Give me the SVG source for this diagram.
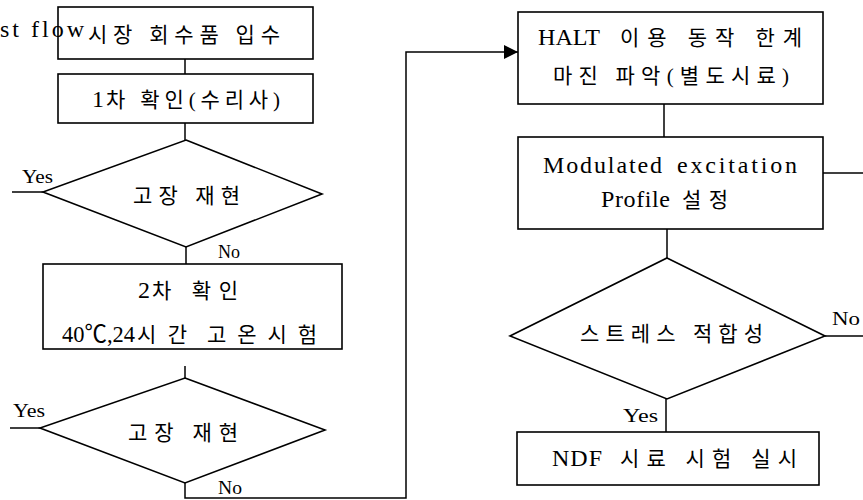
<svg xmlns="http://www.w3.org/2000/svg" width="863" height="500" viewBox="0 0 863 500">
<defs>
<style>
.box{fill:#fff;stroke:#000;stroke-width:1.6}
.dia{fill:#fff;stroke:#000;stroke-width:1.6}
.ln{fill:none;stroke:#000;stroke-width:1.5}
.k{font-family:"Liberation Serif","Noto Sans CJK KR",serif;font-size:21px;fill:#000}
.e{font-family:"Liberation Serif","Noto Sans CJK KR",serif;font-size:24px;fill:#000}
.lb{font-family:"Liberation Serif","Noto Sans CJK KR",serif;font-size:19px;fill:#000}
</style>
<marker id="arr" viewBox="0 0 10 10" refX="10" refY="5" markerWidth="21" markerHeight="14" markerUnits="userSpaceOnUse" orient="auto">
<path d="M0,0 L10,5 L0,10 Z" fill="#000"/>
</marker>
</defs>
<rect width="863" height="500" fill="#fff"/>
<g id="connectors">
<line class="ln" x1="185" y1="59" x2="185" y2="74"/>
<line class="ln" x1="185" y1="123" x2="185" y2="140"/>
<line class="ln" x1="12" y1="192" x2="43" y2="192"/>
<line class="ln" x1="186" y1="247" x2="186" y2="264"/>
<line class="ln" x1="185" y1="366" x2="185" y2="378"/>
<line class="ln" x1="10" y1="428" x2="40" y2="428"/>
<polyline class="ln" points="185,483 185,498 406,498 406,52 518,52" marker-end="url(#arr)"/>
<line class="ln" x1="664" y1="104" x2="664" y2="137"/>
<line class="ln" x1="823" y1="173" x2="863" y2="173"/>
<line class="ln" x1="667" y1="229" x2="667" y2="258"/>
<line class="ln" x1="825" y1="336" x2="863" y2="336"/>
<line class="ln" x1="666" y1="399" x2="666" y2="432"/>
<text class="lb" x="22" y="183" textLength="31" lengthAdjust="spacingAndGlyphs">Yes</text>
<text class="lb" x="218" y="258" textLength="22" lengthAdjust="spacingAndGlyphs">No</text>
<text class="lb" x="13" y="417" textLength="32" lengthAdjust="spacingAndGlyphs">Yes</text>
<text class="lb" x="218" y="494" textLength="24" lengthAdjust="spacingAndGlyphs">No</text>
<text class="lb" x="832" y="325" textLength="28" lengthAdjust="spacingAndGlyphs">No</text>
<text class="lb" x="623" y="422" textLength="35" lengthAdjust="spacingAndGlyphs">Yes</text>
</g>
<g id="n1">
<rect class="box" x="58" y="7" width="255" height="52"/>
<text class="k" x="88" y="42" textLength="192" lengthAdjust="spacing">시장 회수품 입수</text>
</g>
<text id="title" class="e" x="0" y="37" textLength="84" lengthAdjust="spacing">st flow</text>
<g id="n2">
<rect class="box" x="58" y="74" width="255" height="49"/>
<text class="e" x="92" y="107">1</text>
<text class="k" x="106" y="107" textLength="174" lengthAdjust="spacing">차 확인(수리사)</text>
</g>
<g id="d1">
<polygon class="dia" points="186,140 322,194 186,247 43,192"/>
<text class="k" x="133" y="203" textLength="107" lengthAdjust="spacing">고장 재현</text>
</g>
<g id="n3">
<rect class="box" x="43" y="264" width="299" height="85"/>
<text class="e" x="138" y="298">2</text>
<text class="k" x="152" y="298" textLength="86" lengthAdjust="spacing">차 확인</text>
<text class="e" x="62" y="342" textLength="73" lengthAdjust="spacingAndGlyphs">40℃,24</text>
<text class="k" x="137" y="342" textLength="50" lengthAdjust="spacing">시간</text>
<text class="k" x="207" y="342" textLength="110" lengthAdjust="spacing">고온시험</text>
</g>
<g id="d2">
<polygon class="dia" points="185,378 325,430 185,483 40,428"/>
<text class="k" x="128" y="440" textLength="110" lengthAdjust="spacing">고장 재현</text>
</g>
<g id="n4">
<rect class="box" x="518" y="12" width="305" height="92"/>
<text class="e" x="538" y="45" textLength="62" lengthAdjust="spacingAndGlyphs">HALT</text>
<text class="k" x="620" y="45" textLength="182" lengthAdjust="spacing">이용 동작 한계</text>
<text class="k" x="553" y="83" textLength="236" lengthAdjust="spacing">마진 파악(별도시료)</text>
</g>
<g id="n5">
<rect class="box" x="518" y="137" width="305" height="92"/>
<text class="e" x="543" y="173" textLength="119" lengthAdjust="spacing">Modulated</text>
<text class="e" x="677" y="173" textLength="120" lengthAdjust="spacing">excitation</text>
<text class="e" x="601" y="207" textLength="69" lengthAdjust="spacing">Profile</text>
<text class="k" x="682" y="207" textLength="46" lengthAdjust="spacing">설정</text>
</g>
<g id="d3">
<polygon class="dia" points="667,258 825,336 667,399 510,336"/>
<text class="k" x="580" y="341" textLength="183" lengthAdjust="spacing">스트레스 적합성</text>
</g>
<g id="n6">
<rect class="box" x="517" y="432" width="302" height="53"/>
<text class="e" x="552" y="466" textLength="50" lengthAdjust="spacing">NDF</text>
<text class="k" x="620" y="466" textLength="177" lengthAdjust="spacing">시료 시험 실시</text>
</g>
</svg>
